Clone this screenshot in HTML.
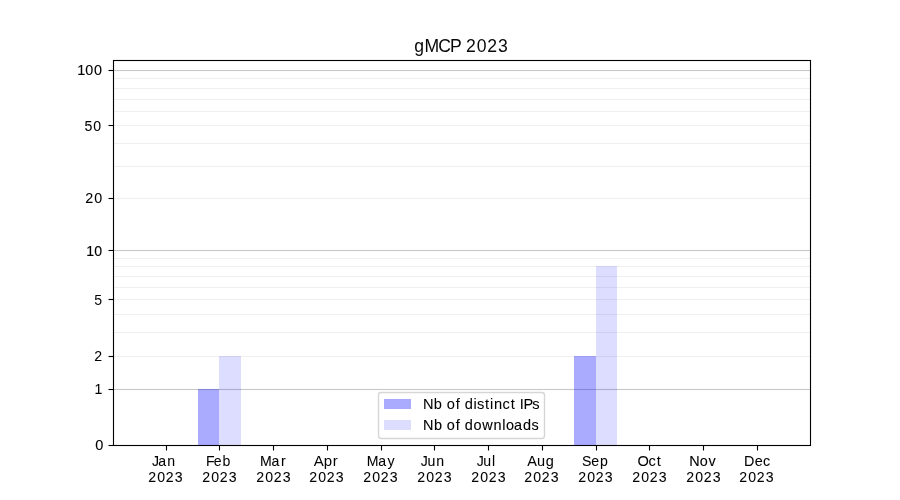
<!DOCTYPE html>
<html lang="en">
<head>
<meta charset="utf-8">
<title>gMCP 2023</title>
<style>
html,body{margin:0;padding:0;background:#ffffff;}
body{width:900px;height:500px;overflow:hidden;font-family:"Liberation Sans",sans-serif;}
svg{display:block;will-change:transform;}
svg text{font-family:"Liberation Sans",sans-serif;fill:#000000;white-space:pre;}
.sp{stroke:#000000;stroke-width:1.11;fill:none;}
.gM{fill:#b0b0b0;fill-opacity:0.7;}
.gm{fill:#b0b0b0;fill-opacity:0.2;}
.tk{stroke:#000000;stroke-width:1.11;}
.b1{fill:#0000ff;fill-opacity:0.3333;}
.b2{fill:#0000ff;fill-opacity:0.1333;}
</style>
</head>
<body>
<svg width="900" height="500" viewBox="0 0 900 500">
<rect x="0" y="0" width="900" height="500" fill="#ffffff"/>

<g id="grid">
<rect class="gm" x="113" y="355.945" width="698" height="1.11"/>
<rect class="gm" x="113" y="331.945" width="698" height="1.11"/>
<rect class="gm" x="113" y="313.945" width="698" height="1.11"/>
<rect class="gm" x="113" y="298.945" width="698" height="1.11"/>
<rect class="gm" x="113" y="286.945" width="698" height="1.11"/>
<rect class="gm" x="113" y="275.945" width="698" height="1.11"/>
<rect class="gm" x="113" y="265.945" width="698" height="1.11"/>
<rect class="gm" x="113" y="257.945" width="698" height="1.11"/>
<rect class="gm" x="113" y="197.945" width="698" height="1.11"/>
<rect class="gm" x="113" y="165.945" width="698" height="1.11"/>
<rect class="gm" x="113" y="142.945" width="698" height="1.11"/>
<rect class="gm" x="113" y="124.945" width="698" height="1.11"/>
<rect class="gm" x="113" y="110.945" width="698" height="1.11"/>
<rect class="gm" x="113" y="98.945" width="698" height="1.11"/>
<rect class="gm" x="113" y="87.945" width="698" height="1.11"/>
<rect class="gm" x="113" y="77.945" width="698" height="1.11"/>
<rect class="gM" x="113" y="388.945" width="698" height="1.11"/>
<rect class="gM" x="113" y="249.945" width="698" height="1.11"/>
<rect class="gM" x="113" y="69.945" width="698" height="1.11"/>
</g>
<g id="bars" shape-rendering="crispEdges">
<rect class="b1" x="198" y="389" width="21" height="56"/>
<rect class="b2" x="219" y="356" width="22" height="89"/>
<rect class="b1" x="574" y="356" width="22" height="89"/>
<rect class="b2" x="596" y="266" width="21" height="179"/>
</g>
<g id="ticks">
<line class="tk" x1="166.5" x2="166.5" y1="445.5" y2="450.5"/>
<line class="tk" x1="219.5" x2="219.5" y1="445.5" y2="450.5"/>
<line class="tk" x1="273.5" x2="273.5" y1="445.5" y2="450.5"/>
<line class="tk" x1="327.5" x2="327.5" y1="445.5" y2="450.5"/>
<line class="tk" x1="381.5" x2="381.5" y1="445.5" y2="450.5"/>
<line class="tk" x1="434.5" x2="434.5" y1="445.5" y2="450.5"/>
<line class="tk" x1="488.5" x2="488.5" y1="445.5" y2="450.5"/>
<line class="tk" x1="542.5" x2="542.5" y1="445.5" y2="450.5"/>
<line class="tk" x1="596.5" x2="596.5" y1="445.5" y2="450.5"/>
<line class="tk" x1="649.5" x2="649.5" y1="445.5" y2="450.5"/>
<line class="tk" x1="703.5" x2="703.5" y1="445.5" y2="450.5"/>
<line class="tk" x1="757.5" x2="757.5" y1="445.5" y2="450.5"/>
<line class="tk" x1="108.5" x2="113.5" y1="445.5" y2="445.5"/>
<line class="tk" x1="108.5" x2="113.5" y1="389.5" y2="389.5"/>
<line class="tk" x1="108.5" x2="113.5" y1="356.5" y2="356.5"/>
<line class="tk" x1="108.5" x2="113.5" y1="299.5" y2="299.5"/>
<line class="tk" x1="108.5" x2="113.5" y1="250.5" y2="250.5"/>
<line class="tk" x1="108.5" x2="113.5" y1="198.5" y2="198.5"/>
<line class="tk" x1="108.5" x2="113.5" y1="125.5" y2="125.5"/>
<line class="tk" x1="108.5" x2="113.5" y1="70.5" y2="70.5"/>
</g>
<rect class="sp" x="113.5" y="60.5" width="697" height="385"/>
<g id="xlabels">
<text id="xm0" x="152.12 158.14 167.33" y="466.00" font-size="14.10" stroke="#000000" stroke-width="0.05">Jan</text>
<text id="xy0" x="148.16 157.18 165.82 174.86" y="482.00" font-size="14.10" stroke="#000000" stroke-width="0.05">2023</text>
<text id="xm1" x="205.92 213.86 222.60" y="466.00" font-size="14.10">Feb</text>
<text id="xy1" x="202.16 211.18 219.82 228.86" y="482.00" font-size="14.10" stroke="#000000" stroke-width="0.05">2023</text>
<text id="xm2" x="259.93 271.60 281.08" y="466.00" font-size="14.10" stroke="#000000" stroke-width="0.07">Mar</text>
<text id="xy2" x="256.16 265.18 273.82 282.86" y="482.00" font-size="14.10" stroke="#000000" stroke-width="0.05">2023</text>
<text id="xm3" transform="scale(1.0641 1)" x="294.74 304.20 312.76" y="466.00" font-size="14.10" fill-opacity="0.99">Apr</text>
<text id="xy3" x="309.16 318.18 326.82 335.86" y="482.00" font-size="14.10" stroke="#000000" stroke-width="0.05">2023</text>
<text id="xm4" x="366.63 378.30 387.57" y="466.00" font-size="14.10" stroke="#000000" stroke-width="0.05">May</text>
<text id="xy4" x="363.16 372.18 380.82 389.86" y="482.00" font-size="14.10" stroke="#000000" stroke-width="0.05">2023</text>
<text id="xm5" x="420.79 427.43 436.29" y="466.00" font-size="14.10" stroke="#000000" stroke-width="0.07">Jun</text>
<text id="xy5" x="417.16 426.18 434.82 443.86" y="482.00" font-size="14.10" stroke="#000000" stroke-width="0.05">2023</text>
<text id="xm6" x="476.68 483.32 492.05" y="466.00" font-size="14.10" stroke="#000000" stroke-width="0.04">Jul</text>
<text id="xy6" x="471.16 480.18 488.82 497.86" y="482.00" font-size="14.10" stroke="#000000" stroke-width="0.05">2023</text>
<text id="xm7" transform="scale(1.0309 1)" x="511.39 521.02 529.50" y="466.00" font-size="14.10" stroke="#000000" stroke-width="0.03">Aug</text>
<text id="xy7" x="524.16 533.18 541.82 550.86" y="482.00" font-size="14.10" stroke="#000000" stroke-width="0.05">2023</text>
<text id="xm8" x="581.90 591.30 600.04" y="466.00" font-size="14.10" stroke="#000000" stroke-width="0.04">Sep</text>
<text id="xy8" x="578.16 587.18 595.82 604.86" y="482.00" font-size="14.10" stroke="#000000" stroke-width="0.05">2023</text>
<text id="xm9" transform="scale(1.0388 1)" x="613.64 624.37 632.34" y="466.00" font-size="14.10" stroke="#000000" stroke-width="0.02">Oct</text>
<text id="xy9" x="632.16 641.18 649.82 658.86" y="482.00" font-size="14.10" stroke="#000000" stroke-width="0.05">2023</text>
<text id="xm10" transform="scale(1.0218 1)" x="674.48 684.89 693.46" y="466.00" font-size="14.10" stroke="#000000" stroke-width="0.10">Nov</text>
<text id="xy10" x="686.16 695.18 703.82 712.86" y="482.00" font-size="14.10" stroke="#000000" stroke-width="0.05">2023</text>
<text id="xm11" transform="scale(1.0200 1)" x="729.31 739.91 748.05" y="466.00" font-size="14.10" stroke="#000000" stroke-width="0.05">Dec</text>
<text id="xy11" x="739.16 748.18 756.82 765.86" y="482.00" font-size="14.10" stroke="#000000" stroke-width="0.05">2023</text>
</g>
<g id="ylabels">
<text id="y0" transform="scale(1.0323 1)" x="92.21" y="450.00" font-size="14.10" stroke="#000000" stroke-width="0.10">0</text>
<text id="y1" x="94.43" y="394.00" font-size="14.10" stroke="#000000" stroke-width="0.06">1</text>
<text id="y2" x="94.16" y="361.00" font-size="14.10" stroke="#000000" stroke-width="0.03">2</text>
<text id="y5" x="94.19" y="305.00" font-size="14.10" fill-opacity="0.98">5</text>
<text id="y10" x="86.19 94.19" y="256.00" font-size="14.10" stroke="#000000" stroke-width="0.13">10</text>
<text id="y20" transform="scale(1.0166 1)" x="83.77 92.64" y="203.00" font-size="14.10" stroke="#000000" stroke-width="0.06">20</text>
<text id="y50" x="84.41 93.29" y="131.00" font-size="14.10" stroke="#000000" stroke-width="0.05">50</text>
<text id="y100" transform="scale(1.0183 1)" x="75.77 83.63 92.29" y="75.00" font-size="14.10" stroke="#000000" stroke-width="0.11">100</text>
</g>
<text id="title" x="414.37 424.47 438.33 450.00 460.62 466.07 476.87 487.23 498.04" y="52.00" font-size="17.60" fill-opacity="0.97">gMCP 2023</text>
<g id="legend">
<rect x="378.5" y="392.5" width="166" height="46" rx="2.78" ry="2.78" fill="#ffffff" fill-opacity="0.8" stroke="#cccccc" stroke-opacity="0.8" stroke-width="1.39"/>
<rect class="b1" shape-rendering="crispEdges" x="384" y="399" width="27" height="10"/>
<rect class="b2" shape-rendering="crispEdges" x="384" y="420" width="27" height="10"/>
<text id="leg0" transform="scale(1.0389 1)" x="407.09 417.58 425.66 430.07 438.63 442.78 447.26 455.80 459.26 466.79 471.71 475.46 483.57 491.55 496.17 500.42 503.89 512.21" y="409.00" font-size="14.10" stroke="#000000" stroke-width="0.05">Nb of distinct IPs</text>
<text id="leg1" transform="scale(1.0258 1)" x="412.37 422.99 431.12 435.63 444.28 448.45 453.03 461.55 470.03 481.07 489.57 493.22 500.99 509.85 518.24" y="430.00" font-size="14.10" stroke="#000000" stroke-width="0.10">Nb of downloads</text>
</g>
</svg>
</body>
</html>
